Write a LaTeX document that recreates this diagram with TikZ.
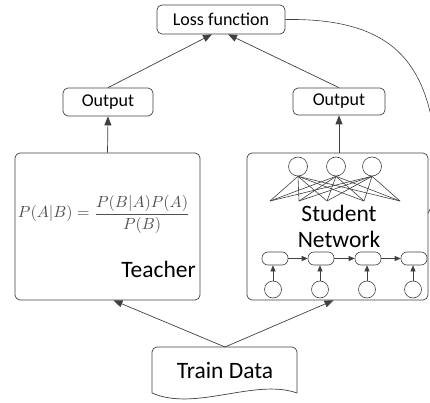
\documentclass[tikz,border=0pt]{standalone}
\usepackage{graphicx}
\usepackage{fontspec}
\setmainfont{Carlito}
\usetikzlibrary{arrows.meta}
\definecolor{ln}{HTML}{404040}
\definecolor{fm}{HTML}{505050}
\tikzset{
  box/.style={draw=ln, line width=0.7pt, rounded corners=5pt, inner sep=0pt},
  lbl/.style={font=\fontsize{18}{20}\selectfont},
  big/.style={font=\fontsize{23.5}{26}\selectfont, inner sep=0pt},
  arr/.style={draw=ln, line width=0.7pt, -{Triangle[width=7pt,length=9pt]}},
  sarr/.style={draw=ln, line width=0.6pt, -{Triangle[width=5pt,length=6pt]}},
  thin/.style={draw=ln, line width=0.6pt},
  neuron/.style={circle, draw=ln, line width=0.6pt, inner sep=0pt},
  cell/.style={draw=ln, line width=0.6pt, rounded corners=6pt, minimum width=26pt, minimum height=13pt, inner sep=0pt}
}
\begin{document}
\begin{tikzpicture}[x=1pt,y=-1pt]
\useasboundingbox (0,0) rectangle (430,403);
\clip (0,0) rectangle (430,403);
% boxes
\node[box, lbl, minimum width=128pt, minimum height=29pt] (loss) at (221,19.5) {Loss function};
\node[box, lbl, minimum width=90pt, minimum height=28pt] (outL) at (108,102) {Output};
\node[box, lbl, minimum width=92pt, minimum height=27pt] (outR) at (339,101.5) {Output};
\node[box, minimum width=185pt, minimum height=147pt] (teacher) at (107.5,226.5) {};
\node[box, minimum width=181pt, minimum height=147pt] (student) at (337.5,226.5) {};
% teacher content
\node[text=fm, inner sep=0pt] (formula) at (104,214) {\resizebox{172pt}{!}{$\displaystyle P(A|B)=\frac{P(B|A)P(A)}{P(B)}$}};
\node[big, anchor=base east] (tlabel) at (196,277) {Teacher};
% student network: top layer
\node[neuron, minimum size=19pt] (n1) at (298,166.5) {};
\node[neuron, minimum size=19pt] (n2) at (336,166.5) {};
\node[neuron, minimum size=19pt] (n3) at (372,166.5) {};
\foreach \i/\x in {1/270,2/299,3/327,4/364,5/400}{
  \coordinate (b\i) at (\x,201);
}
\foreach \n in {n1,n2,n3}{
  \foreach \i in {1,...,5}{
    \draw[thin] (\n.south) -- (b\i);
  }
}
\node[big, anchor=base] (st1) at (339,221) {Student};
\node[big, anchor=base] (st2) at (339,247) {Network};
% recurrent row
\foreach \i/\x in {1/275,2/321,3/368,4/414}{
  \node[cell] (c\i) at (\x,258.5) {};
}
\foreach \i/\x in {1/273,2/320,3/367,4/413}{
  \node[neuron, minimum size=17pt] (x\i) at (\x,289.5) {};
  \draw[sarr] (x\i.north) -- (x\i.north |- c\i.south);
}
\draw[sarr] (c1.east) -- (c2.west);
\draw[sarr] (c2.east) -- (c3.west);
\draw[sarr] (c3.east) -- (c4.west);
% train data document shape
\draw[ln, line width=0.7pt, rounded corners=5pt] (152,393) -- (152,347) -- (297,347) -- (297,393);
\draw[ln, line width=0.7pt] (297,393) .. controls (255,378) and (195,412) .. (152,393);
\node[big] (train) at (225,370) {Train Data};
\coordinate (trainTop) at (225,347);
% connectors
\draw[arr] (teacher.north) -- (outL.south);
\draw[arr] (outR.south |- student.north) -- (outR.south);
\draw[arr] (outL.north) -- ([xshift=-9pt]loss.south);
\draw[arr] (outR.north) -- ([xshift=7pt]loss.south);
\draw[arr] (trainTop) -- ([xshift=6pt]teacher.south);
\draw[arr] (trainTop) -- ([xshift=-4pt]student.south);
% feedback curve
\draw[ln, line width=0.6pt] (loss.east) .. controls (390,18) and (428,60) .. (436,150) .. controls (440,185) and (432,205) .. ([yshift=13.5pt]student.east);
\end{tikzpicture}
\end{document}
